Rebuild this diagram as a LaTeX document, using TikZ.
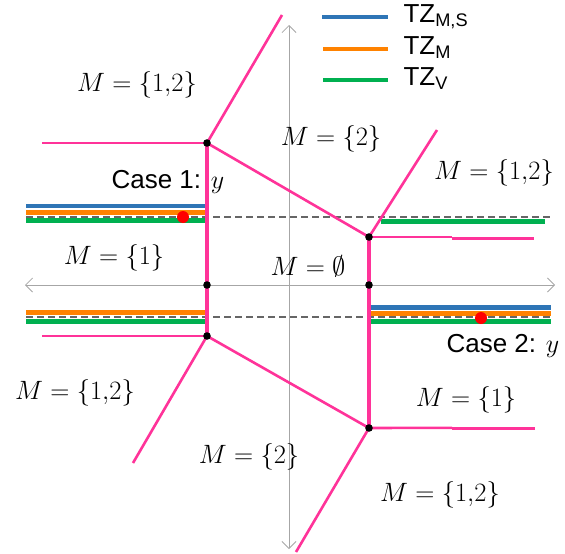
\documentclass[tikz,border=0pt]{standalone}
\usepackage{fix-cm}
\usepackage{fontspec}
\setsansfont{Liberation Sans}
\usetikzlibrary{arrows.meta}
\definecolor{tzpink}{RGB}{255,51,153}
\definecolor{tzblue}{RGB}{46,117,182}
\definecolor{tzorange}{RGB}{255,130,0}
\definecolor{tzgreen}{RGB}{0,176,80}
\tikzset{
  boundary/.style={tzpink, line width=2.6pt},
  wall/.style={tzpink, line width=3.4pt},
  zonems/.style={tzblue, line width=4.5pt},
  zonem/.style={tzorange, line width=4.5pt},
  zonev/.style={tzgreen, line width=4.5pt},
  axis/.style={gray!70, line width=0.8pt},
  guide/.style={black!60, dashed, dash pattern=on 7pt off 4pt, line width=1.3pt},
  region/.style={font=\fontsize{26.5}{30}\selectfont},
  caselabel/.style={font=\sffamily\fontsize{26}{30}\selectfont},
}
\begin{document}
\begin{tikzpicture}[x=1pt, y=-1pt, >={Straight Barb[length=7pt,width=14pt]}]
  \useasboundingbox (0,0) rectangle (565,554);
  % axes
  \coordinate (xl) at (25,285);   \coordinate (xr) at (555,285);
  \coordinate (yt) at (289,25);   \coordinate (yb) at (289,549);
  \draw[axis, <->] (xl) -- (xr);
  \draw[axis, <->] (yt) -- (yb);
  % dashed levels of y
  \draw[guide] (26,217) -- (553,217);
  \draw[guide] (26,317) -- (553,317);
  % tropical zones
  \draw[zonems] (26,206) -- (207,206);
  \draw[zonem] (26,212.5) -- (207,212.5);
  \draw[zonev] (26,220.5) -- (207,220.5);
  \draw[zonem] (26,312.5) -- (207,312.5);
  \draw[zonev] (26,321.5) -- (207,321.5);
  \draw[zonev] (381,221.5) -- (545,221.5);
  \draw[zonems] (370,307.5) -- (551,307.5);
  \draw[zonem] (370,313.5) -- (551,313.5);
  \draw[zonev] (370,321.5) -- (551,321.5);
  % vertices of the curve
  \coordinate (ul) at (207,143);
  \coordinate (ml) at (207,285);
  \coordinate (ll) at (207,336);
  \coordinate (ur) at (369,237);
  \coordinate (mr) at (369,285);
  \coordinate (lr) at (369,428);
  % rays
  \coordinate (ulup) at (282,15);
  \coordinate (ulleft) at (42,143);
  \coordinate (llleft) at (42,336);
  \coordinate (lldown) at (133,463);
  \coordinate (urup) at (437,130);
  \coordinate (urright) at (534,238.5);
  \coordinate (lrdown) at (296,552);
  \coordinate (lrright) at (535,428.5);
  \draw[boundary] (ul) -- (ulup);
  \draw[boundary] (ul) -- (ulleft);
  \draw[boundary] (ll) -- (llleft);
  \draw[boundary] (ll) -- (lldown);
  \draw[boundary] (ul) -- (ur);
  \draw[boundary] (ll) -- (lr);
  \draw[boundary] (ur) -- (urup);
  \draw[boundary] (ur) -- (452,237);
  \draw[boundary] (452,238.5) -- (urright);
  \draw[boundary] (lr) -- (lrdown);
  \draw[boundary] (lr) -- (452,427.8);
  \draw[boundary] (452,428.5) -- (lrright);
  \draw[wall] (ul) -- (ll);
  \draw[wall] (ur) -- (lr);
  \foreach \v in {ul,ml,ll,ur,mr,lr}
    \fill (\v) circle (3.8pt);
  % points y
  \fill[red] (183,217) circle (6pt);
  \fill[red] (481,318) circle (6pt);
  % labels
  \node[region] (r12a) at (137,85) {$M=\{1{,}2\}$};
  \node[region] (r2a) at (331,139) {$M=\{2\}$};
  \node[region] (r12b) at (494,173) {$M=\{1{,}2\}$};
  \node[region] (r1a) at (114,258) {$M=\{1\}$};
  \node[region] (r0) at (308,266) {$M=\emptyset$};
  \node[region] (r12c) at (75,393) {$M=\{1{,}2\}$};
  \node[region] (r1b) at (466,400) {$M=\{1\}$};
  \node[region] (r2b) at (249,457) {$M=\{2\}$};
  \node[region] (r12d) at (440,495) {$M=\{1{,}2\}$};
  \node[caselabel, anchor=west] (case1) at (108,182) {Case 1: $y$};
  \node[caselabel, anchor=west] (case2) at (443,346) {Case 2: $y$};
  % legend
  \draw[zonems] (322,17) -- (388,17);
  \draw[zonem] (323,49) -- (388,49);
  \draw[zonev] (323,80) -- (388,80);
  \node[caselabel, anchor=west] (lms) at (400,17) {TZ\textsubscript{M,S}};
  \node[caselabel, anchor=west] (lm) at (400,48) {TZ\textsubscript{M}};
  \node[caselabel, anchor=west] (lv) at (400,79) {TZ\textsubscript{V}};
\end{tikzpicture}
\end{document}
